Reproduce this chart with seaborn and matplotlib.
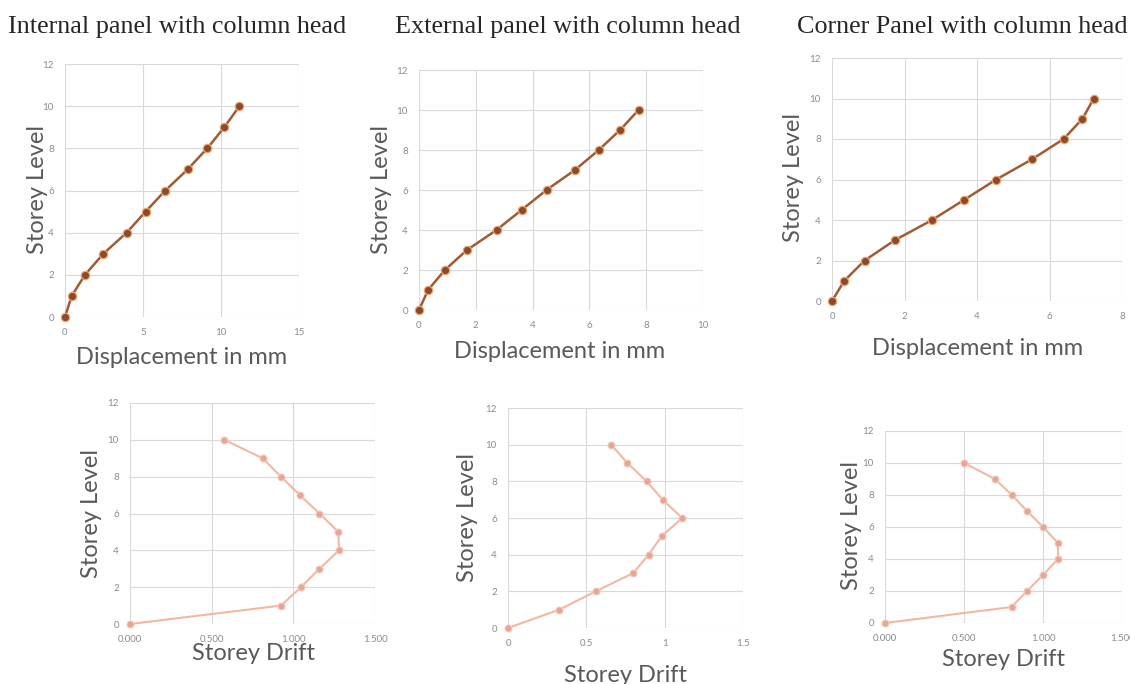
import matplotlib
matplotlib.use("Agg")
import matplotlib.pyplot as plt
import seaborn as sns
import pandas as pd
from matplotlib.ticker import FormatStrFormatter, FuncFormatter

# Storey levels shared by every panel
levels = [0, 1, 2, 3, 4, 5, 6, 7, 8, 9, 10]

# Lateral displacement (mm) per storey
disp_internal = [0, 0.43, 1.28, 2.46, 3.95, 5.17, 6.43, 7.86, 9.12, 10.21, 11.18]
disp_external = [0, 0.32, 0.91, 1.69, 2.73, 3.61, 4.49, 5.49, 6.33, 7.08, 7.73]
disp_corner = [0, 0.34, 0.90, 1.73, 2.76, 3.65, 4.53, 5.52, 6.39, 6.91, 7.22]

# Storey drift per storey
drift_internal = [0, 0.924, 1.047, 1.16, 1.28, 1.276, 1.16, 1.04, 0.924, 0.812, 0.578]
drift_external = [0, 0.327, 0.56, 0.80, 0.897, 0.98, 1.112, 0.987, 0.885, 0.762, 0.658]
drift_corner = [0, 0.801, 0.899, 1.0, 1.095, 1.095, 1.0, 0.899, 0.803, 0.696, 0.501]

titles = ["Internal panel with column head",
          "External panel with column head",
          "Corner Panel with column head"]

sns.set_theme(style="white")
plt.rcParams["font.family"] = ["Lato", "DejaVu Sans"]

W, H = 1130, 684
fig = plt.figure(figsize=(W / 100, H / 100), dpi=100)
fig.patch.set_facecolor("white")


def box(l, r, t, b):
    return [l / W, 1 - b / H, (r - l) / W, (b - t) / H]


def label_coords(rect, x_px, y_px):
    l, r, t, b = rect
    return (x_px - l) / (r - l), (b - y_px) / (b - t)


LABEL_COLOR = "#595959"
TICK_COLOR = "#8c8c8c"
GRID_COLOR = "#d9d9d9"


def style_axes(ax, xmax, xstep, fmt, rect, xlab_pos, ylab_pos, xlabel):
    ax.set_xlim(0, xmax)
    ax.set_ylim(0, 12)
    n = int(round(xmax / xstep))
    ax.set_xticks([i * xstep for i in range(n + 1)])
    ax.set_yticks(range(0, 13, 2))
    ax.xaxis.set_major_formatter(fmt)
    ax.grid(True, color=GRID_COLOR, linewidth=0.8)
    ax.set_axisbelow(True)
    for s in ax.spines.values():
        s.set_visible(False)
    ax.tick_params(axis="both", length=0, labelsize=7, labelcolor=TICK_COLOR, pad=8)
    ax.set_xlabel(xlabel, fontsize=17, color=LABEL_COLOR)
    ax.set_ylabel("Storey Level", fontsize=17, color=LABEL_COLOR)
    ax.xaxis.set_label_coords(*label_coords(rect, *xlab_pos))
    ax.yaxis.set_label_coords(*label_coords(rect, *ylab_pos))
    ax.xaxis.label.set_verticalalignment("center")
    ax.yaxis.label.set_verticalalignment("center")
    for ln in ax.get_lines():
        ln.set_clip_on(False)


top_rects = [(65, 299, 64, 317), (419, 703, 70, 310), (832, 1122, 58, 301)]
bot_rects = [(130, 375, 403, 624), (508, 743, 408, 628), (885, 1122, 431, 623)]

top_data = [disp_internal, disp_external, disp_corner]
bot_data = [drift_internal, drift_external, drift_corner]

top_xmax = [15, 10, 8]
top_xstep = [5, 2, 2]
top_xlab = [(182, 357), (560, 352), (978, 348)]
top_ylab = [(38, 190), (381, 190), (793, 177)]

bot_fmt = [FormatStrFormatter("%.3f"),
           FuncFormatter(lambda v, p: f"{v:g}"),
           FormatStrFormatter("%.3f")]
bot_xlab = [(253, 653), (625, 675), (1003, 660)]
bot_ylab = [(92, 513), (467, 518), (852, 525)]

for i in range(3):
    rect = top_rects[i]
    ax = fig.add_axes(box(*rect))
    df = pd.DataFrame({"disp": top_data[i], "level": levels})
    sns.lineplot(data=df, x="disp", y="level", sort=False, estimator=None, ax=ax,
                 color="#a35a32", linewidth=1.8, marker="o", markersize=6,
                 markerfacecolor="#8a4a2b", markeredgecolor="#eea56c",
                 markeredgewidth=0.9)
    style_axes(ax, top_xmax[i], top_xstep[i], FuncFormatter(lambda v, p: f"{v:g}"),
               rect, top_xlab[i], top_ylab[i], "Displacement in mm")

    rect = bot_rects[i]
    ax = fig.add_axes(box(*rect))
    df = pd.DataFrame({"drift": bot_data[i], "level": levels})
    sns.lineplot(data=df, x="drift", y="level", sort=False, estimator=None, ax=ax,
                 color="#f3b7a2", linewidth=1.5, marker="o", markersize=5,
                 markerfacecolor="#e6a595", markeredgecolor="#f6cbbb",
                 markeredgewidth=0.8)
    style_axes(ax, 1.5, 0.5, bot_fmt[i], rect, bot_xlab[i], bot_ylab[i],
               "Storey Drift")

title_x = [8, 395, 797]
for tx, t in zip(title_x, titles):
    fig.text(tx / W, 1 - 33 / H, t, fontsize=18.8, color="#262626",
             family=["Liberation Serif", "DejaVu Serif"], ha="left", va="baseline")

fig.savefig("out.png", dpi=100, facecolor="white")
